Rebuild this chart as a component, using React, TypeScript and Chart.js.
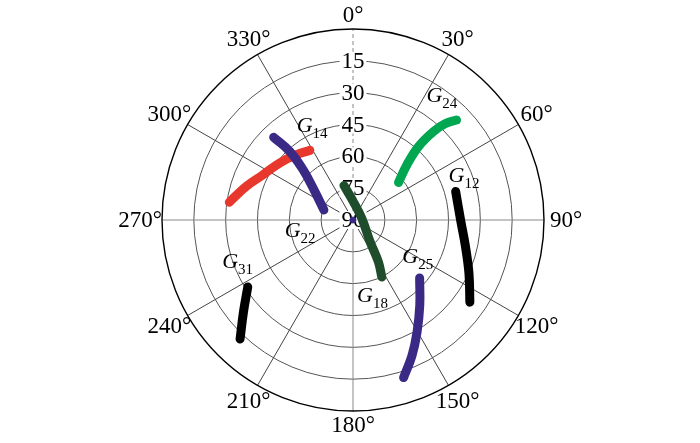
import React, { useEffect, useRef } from "react";
import { Chart, registerables } from "chart.js";
Chart.register(...registerables);

// Axis ticks
const azimuthTicks = [0, 30, 60, 90, 120, 150, 180, 210, 240, 270, 300, 330];
const elevationTicks = [15, 30, 45, 60, 75, 90];

// Satellite tracks (azimuth in degrees, elevation in degrees)
const g22Az = [316.2, 317.3, 315.2, 306.7, 289];
const g22El = [36, 46, 56.6, 67.6, 75.5];
const g14Az = [278.2, 287.4, 296.6, 307.8, 319.1, 328.2];
const g14El = [31.1, 37.2, 42.5, 46.2, 49.3, 51.4];
const g24Az = [50.5, 44.3, 41.7, 42.3, 43.8, 46];
const g24El = [62.2, 53.6, 43.5, 33.5, 27, 22.2];
const g12Az = [74.5, 90, 103.4, 114.8, 125.1];
const g12El = [39.8, 39.3, 35.5, 29.8, 22.7];
const g25Az = [131, 142, 150.3, 156.5, 162.2];
const g25El = [48.4, 38.9, 29.1, 20.3, 12];
const g18Az = [345.3, 0.9, 78.9, 141.9, 148.8, 153.2];
const g18El = [73.2, 81.3, 85.8, 76.9, 66.9, 59.9];
const g31Az = [237.5, 229.9, 223.5];
const g31El = [31.2, 22.5, 12.7];
const zenithMarkAz = [0];
const zenithMarkEl = [90];

// Satellite labels
const satNames = ["14", "24", "12", "22", "25", "18", "31"];
const satLabelAz = [327.5, 32.0, 68.2, 256, 131.3, 177.2, 249.7];
const satLabelEl = [40.6, 24.7, 41.5, 56.8, 59.1, 51.1, 24.3];

const FONT = '"Liberation Serif", "Times New Roman", serif';

function toXY(az: number, el: number) {
  const r = 90 - el;
  const a = (az * Math.PI) / 180;
  return { x: r * Math.sin(a), y: r * Math.cos(a) };
}
function track(az: number[], el: number[]) {
  return az.map((a, i) => toXY(a, el[i]));
}

const polarGrid = {
  id: "polarGrid",
  beforeDatasetsDraw(chart: any) {
    const ctx = chart.ctx;
    const xs = chart.scales.x;
    const ys = chart.scales.y;
    const cx = xs.getPixelForValue(0);
    const cy = ys.getPixelForValue(0);
    const unit = xs.getPixelForValue(1) - cx;
    const R = 90 * unit;
    ctx.save();
    // rings
    ctx.lineWidth = 1;
    ctx.strokeStyle = "#555";
    elevationTicks.forEach((e) => {
      if (e >= 90) return;
      ctx.beginPath();
      ctx.arc(cx, cy, (90 - e) * unit, 0, Math.PI * 2);
      ctx.stroke();
    });
    // spokes
    azimuthTicks.forEach((az) => {
      const a = (az * Math.PI) / 180;
      ctx.beginPath();
      ctx.setLineDash(az === 0 ? [4, 3] : []);
      ctx.strokeStyle = az % 90 === 0 ? "#888" : "#444";
      ctx.moveTo(cx, cy);
      ctx.lineTo(cx + R * Math.sin(a), cy - R * Math.cos(a));
      ctx.stroke();
    });
    ctx.setLineDash([]);
    // outer circle
    ctx.strokeStyle = "#000";
    ctx.lineWidth = 1.4;
    ctx.beginPath();
    ctx.arc(cx, cy, R, 0, Math.PI * 2);
    ctx.stroke();
    // elevation labels
    ctx.font = "23px " + FONT;
    ctx.textAlign = "center";
    ctx.textBaseline = "middle";
    elevationTicks.forEach((e) => {
      const y = cy - (90 - e) * unit;
      const t = String(e);
      const w = ctx.measureText(t).width;
      ctx.fillStyle = "#fff";
      ctx.fillRect(cx - w / 2 - 2, y - 9, w + 4, 18);
      ctx.fillStyle = "#000";
      ctx.fillText(t, cx, y + 1);
    });
    // azimuth labels
    azimuthTicks.forEach((az) => {
      const a = (az * Math.PI) / 180;
      const rl = R + 14 + 8 * Math.abs(Math.sin(a));
      ctx.fillText(az + "°", cx + rl * Math.sin(a), cy - rl * Math.cos(a) + 1);
    });
    ctx.restore();
  },
  afterDatasetsDraw(chart: any) {
    const ctx = chart.ctx;
    const xs = chart.scales.x;
    const ys = chart.scales.y;
    ctx.save();
    ctx.fillStyle = "#000";
    ctx.textAlign = "left";
    ctx.textBaseline = "alphabetic";
    satNames.forEach((n, i) => {
      const p = toXY(satLabelAz[i], satLabelEl[i]);
      const x = xs.getPixelForValue(p.x);
      const y = ys.getPixelForValue(p.y);
      ctx.font = "italic 22px " + FONT;
      ctx.fillText("G", x, y);
      const w = ctx.measureText("G").width;
      ctx.font = "15px " + FONT;
      ctx.fillText(n, x + w, y + 6);
    });
    ctx.restore();
  },
};

function lineSet(label: string, az: number[], el: number[], color: string) {
  return {
    label,
    data: track(az, el),
    showLine: true,
    borderColor: color,
    backgroundColor: color,
    borderWidth: 9,
    borderCapStyle: "round",
    borderJoinStyle: "round",
    pointRadius: 0,
    tension: 0.4,
    clip: false,
  };
}

export default function App() {
  const ref = useRef<HTMLCanvasElement | null>(null);
  useEffect(() => {
    if (!ref.current) return;
    const chart = new Chart(ref.current, {
      type: "scatter",
      data: {
        datasets: [
          {
            label: "zenith",
            data: track(zenithMarkAz, zenithMarkEl),
            pointRadius: 3,
            backgroundColor: "#3b2a85",
            borderColor: "#3b2a85",
            clip: false,
          },
          lineSet("G18", g18Az, g18El, "#1f4d2b"),
          lineSet("G22", g22Az, g22El, "#3b2a85"),
          lineSet("G14", g14Az, g14El, "#e8372c"),
          lineSet("G24", g24Az, g24El, "#00a650"),
          lineSet("G12", g12Az, g12El, "#000000"),
          lineSet("G25", g25Az, g25El, "#3b2a85"),
          lineSet("G31", g31Az, g31El, "#000000"),
        ] as any,
      },
      options: {
        responsive: false,
        animation: false,
        layout: { padding: { left: 162, right: 156, top: 29, bottom: 32 } },
        plugins: { legend: { display: false }, tooltip: { enabled: false } },
        scales: {
          x: { type: "linear", min: -90, max: 90, display: false },
          y: { type: "linear", min: -90, max: 90, display: false },
        },
      },
      plugins: [polarGrid],
    });
    return () => chart.destroy();
  }, []);
  return (
    <div style={{ position: "fixed", left: 0, top: 0, width: 700, height: 443, background: "#fff" }}>
      <canvas ref={ref} width={700} height={443} style={{ width: 700, height: 443 }} />
    </div>
  );
}
